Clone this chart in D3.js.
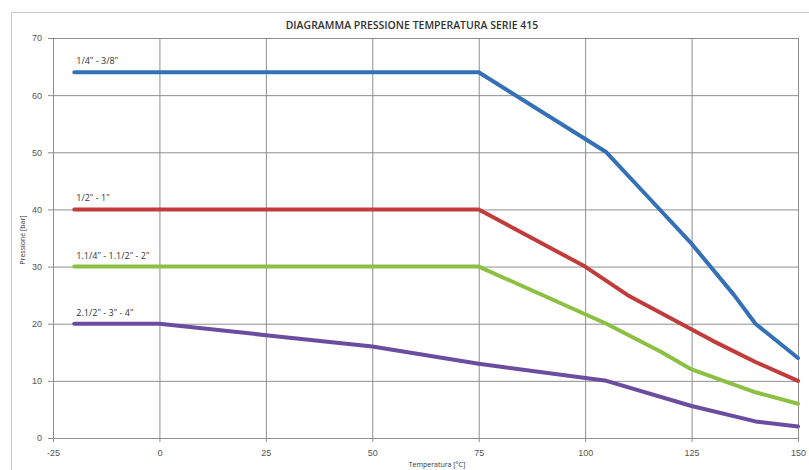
<!DOCTYPE html>
<html>
<head>
<meta charset="utf-8">
<script src="https://cdn.jsdelivr.net/npm/d3@7"></script>
<style>
  body { margin: 0; background: #fff; }
  svg { display: block; font-family: 'Open Sans', sans-serif; }
</style>
</head>
<body>
<svg id="chart" width="809" height="470"></svg>
<script>
// pressure / temperature data
const xTicks = [-25, 0, 25, 50, 75, 100, 125, 150];
const yTicks = [0, 10, 20, 30, 40, 50, 60, 70];

const seriesNames = ['1/4" - 3/8"', '1/2" - 1"', '1.1/4" - 1.1/2" - 2"', '2.1/2" - 3" - 4"'];
const seriesColors = ['#3470b8', '#c23b3b', '#8cc043', '#6b4c9f'];

const tempBlue = [-20, 75, 105, 115, 125, 135, 140, 150];
const presBlue = [64, 64, 50, 42, 34, 25, 20, 14];

const tempRed = [-20, 75, 100, 110, 120, 130, 140, 150];
const presRed = [40, 40, 30, 25, 21, 17, 13.3, 10];

const tempGreen = [-20, 75, 105, 118, 125, 140, 150];
const presGreen = [30, 30, 20, 15, 12, 8, 6];

const tempPurple = [-20, 0, 25, 50, 75, 105, 125, 140, 150];
const presPurple = [20, 20, 18, 16, 13, 10, 5.6, 2.9, 2];

const series = [
    { temp: tempBlue, pres: presBlue },
    { temp: tempRed, pres: presRed },
    { temp: tempGreen, pres: presGreen },
    { temp: tempPurple, pres: presPurple }
];

const svg = d3.select('#chart');
const plot = { left: 53, right: 798, top: 38, bottom: 438 };

// outer frame
svg.append('rect')
    .attr('x', 11.5).attr('y', 12.5)
    .attr('width', 800).attr('height', 470)
    .attr('fill', 'none')
    .attr('stroke', '#c8c8c8');

var x = d3.scaleLinear()
    .domain([-25, 150])
    .range([plot.left, plot.right]);

var y = d3.scaleLinear()
    .domain([0, 70])
    .range([plot.bottom, plot.top]);

// grid through the axes
var xAxis = d3.axisBottom(x)
    .tickValues(xTicks)
    .tickFormat(function(d) { return String(d); })
    .tickSize(plot.bottom - plot.top + 4)
    .tickPadding(8);

var yAxis = d3.axisLeft(y)
    .tickValues(yTicks)
    .tickFormat(function(d) { return String(d); })
    .tickSize(plot.right - plot.left + 5)
    .tickPadding(6);

var gX = svg.append('g')
    .attr('transform', `translate(0,${plot.top})`)
    .call(xAxis);

var gY = svg.append('g')
    .attr('transform', `translate(${plot.right},0)`)
    .call(yAxis);

[gX, gY].forEach(function(g) {
    g.select('.domain').remove();
    g.selectAll('.tick line')
        .attr('stroke', '#8e8e8e')
        .attr('stroke-width', 1);
    g.selectAll('.tick text')
        .attr('fill', '#555')
        .style('font-size', '9px');
});

// right border
svg.append('line')
    .attr('x1', x(150) + 0.5).attr('x2', x(150) + 0.5)
    .attr('y1', plot.top).attr('y2', plot.bottom)
    .attr('stroke', '#8e8e8e');

var line = d3.line()
    .x(function(d) { return x(d[0]); })
    .y(function(d) { return y(d[1]); });

series.forEach(function(s, i) {
    var pts = s.temp.map(function(t, k) { return [t, s.pres[k]]; });

    svg.append('path')
        .datum(pts)
        .attr('d', line)
        .attr('fill', 'none')
        .attr('stroke', seriesColors[i])
        .attr('stroke-width', 4)
        .attr('stroke-linejoin', 'round')
        .attr('stroke-linecap', 'round');

    svg.append('text')
        .attr('x', x(s.temp[0]) + 2)
        .attr('y', y(s.pres[0]) - 8)
        .attr('fill', '#333')
        .style('font-size', '9px')
        .text(seriesNames[i]);
});

// titles
svg.append('text')
    .attr('x', 412)
    .attr('y', 29)
    .attr('text-anchor', 'middle')
    .attr('fill', '#333')
    .style('font-size', '10.5px')
    .style('font-weight', 600)
    .text('DIAGRAMMA PRESSIONE TEMPERATURA SERIE 415');

svg.append('text')
    .attr('x', 437)
    .attr('y', 467)
    .attr('text-anchor', 'middle')
    .attr('fill', '#333')
    .style('font-size', '7px')
    .text('Temperatura [°C]');

svg.append('text')
    .attr('transform', 'translate(25,240) rotate(-90)')
    .attr('text-anchor', 'middle')
    .attr('fill', '#333')
    .style('font-size', '7px')
    .text('Pressione [bar]');
</script>
</body>
</html>
